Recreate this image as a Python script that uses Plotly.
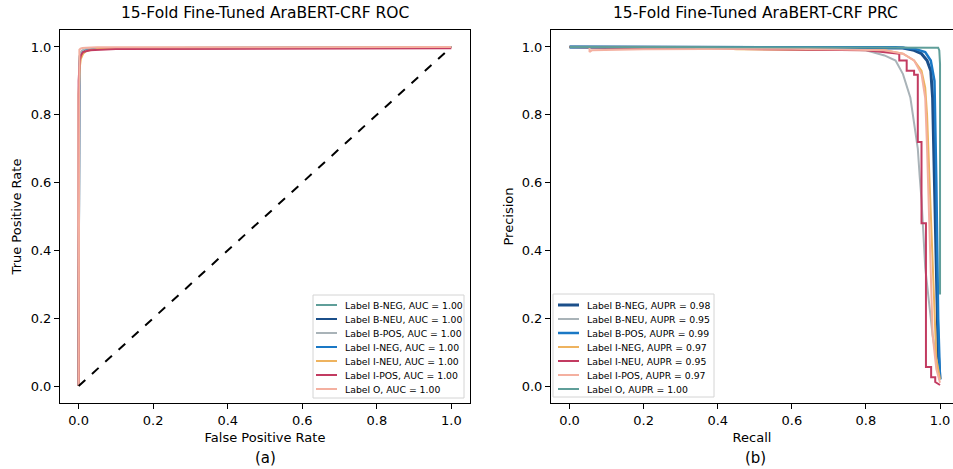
import plotly.graph_objects as go

# ---------------- data ----------------
labels = ["B-NEG", "B-NEU", "B-POS", "I-NEG", "I-NEU", "I-POS", "O"]
auc_values = [1.00, 1.00, 1.00, 1.00, 1.00, 1.00, 1.00]
aupr_values = [0.98, 0.95, 0.99, 0.97, 0.95, 0.97, 1.00]

# ROC curves (false positive rate, true positive rate)
roc_fpr = {
    "B-NEG": [0, 0, 0.002, 0.005, 0.01, 0.02, 0.05, 1.0],
    "B-NEU": [0, 0, 0.002, 0.004, 0.01, 0.02, 0.05, 1.0],
    "B-POS": [0, 0, 0.002, 0.005, 0.01, 0.02, 0.05, 1.0],
    "I-NEG": [0, 0, 0.002, 0.005, 0.01, 0.02, 0.05, 1.0],
    "I-NEU": [0, 0, 0.003, 0.006, 0.012, 0.02, 0.05, 1.0],
    "I-POS": [0, 0, 0.003, 0.006, 0.012, 0.03, 0.1, 1.0],
    "O":     [0, 0, 0.002, 0.005, 0.01, 0.02, 0.05, 1.0],
}
roc_tpr = {
    "B-NEG": [0, 0.90, 0.96, 0.975, 0.985, 0.99, 0.996, 1.0],
    "B-NEU": [0, 0.92, 0.965, 0.98, 0.988, 0.992, 0.996, 1.0],
    "B-POS": [0, 0.93, 0.97, 0.982, 0.99, 0.994, 0.997, 1.0],
    "I-NEG": [0, 0.88, 0.95, 0.97, 0.982, 0.99, 0.995, 1.0],
    "I-NEU": [0, 0.86, 0.94, 0.965, 0.98, 0.988, 0.994, 1.0],
    "I-POS": [0, 0.90, 0.96, 0.975, 0.985, 0.99, 0.994, 0.996],
    "O":     [0, 0.985, 0.992, 0.995, 0.997, 0.998, 0.999, 1.0],
}

# Precision-recall curves (recall, precision)
pr_recall = {
    "B-NEG": [0, 0.85, 0.90, 0.93, 0.95, 0.965, 0.975, 0.98, 0.985, 0.99, 0.995, 1.0],
    "B-NEU": [0, 0.70, 0.80, 0.85, 0.88, 0.90, 0.92, 0.93, 0.94, 0.945, 0.95, 0.955,
              0.96, 0.97, 0.98, 0.99, 1.0],
    "B-POS": [0, 0.88, 0.93, 0.96, 0.975, 0.985, 0.99, 0.995, 1.0],
    "I-NEG": [0, 0.40, 0.45, 0.85, 0.90, 0.93, 0.95, 0.96, 0.965, 0.97, 0.975,
              0.98, 0.985, 0.99, 1.0],
    "I-NEU": [0, 0.50, 0.80, 0.89, 0.89, 0.91, 0.91, 0.93, 0.93, 0.94, 0.94, 0.95,
              0.95, 0.962, 0.962, 0.976, 0.976, 0.987, 0.987, 1.0],
    "I-POS": [0.054, 0.054, 0.06, 0.20, 0.60, 0.85, 0.90, 0.93, 0.95, 0.96, 0.965,
              0.97, 0.975, 0.98, 0.99, 1.0],
    "O":     [0, 0.99, 0.995, 0.998, 1.0, 1.0],
}
pr_precision = {
    "B-NEG": [1.0, 0.999, 0.997, 0.99, 0.98, 0.96, 0.93, 0.85, 0.60, 0.30, 0.10, 0.02],
    "B-NEU": [1.0, 0.995, 0.99, 0.975, 0.96, 0.92, 0.85, 0.78, 0.70, 0.62, 0.55, 0.45,
              0.35, 0.25, 0.15, 0.08, 0.03],
    "B-POS": [1.0, 0.999, 0.995, 0.985, 0.96, 0.90, 0.60, 0.20, 0.02],
    "I-NEG": [1.0, 0.998, 0.993, 0.99, 0.98, 0.96, 0.93, 0.88, 0.80, 0.65, 0.50,
              0.35, 0.20, 0.08, 0.02],
    "I-NEU": [1.0, 0.995, 0.99, 0.98, 0.96, 0.96, 0.93, 0.93, 0.918, 0.918, 0.72, 0.72,
              0.48, 0.48, 0.056, 0.056, 0.026, 0.026, 0.012, 0.003],
    "I-POS": [1.0, 0.985, 0.99, 0.993, 0.995, 0.99, 0.98, 0.96, 0.92, 0.85, 0.70,
              0.50, 0.30, 0.15, 0.05, 0.01],
    "O":     [1.0, 1.0, 0.998, 0.99, 0.95, 0.27],
}

x_ticks = [0.0, 0.2, 0.4, 0.6, 0.8, 1.0]
y_ticks = [0.0, 0.2, 0.4, 0.6, 0.8, 1.0]

# ---------------- styles ----------------
roc_colors = ["#5f9e99", "#1b4f8a", "#a9b3b8", "#1a78c5", "#eeb35f", "#c23b61", "#f4b0a0"]
pr_colors = ["#1b4f8a", "#a9b3b8", "#1a78c5", "#eeb35f", "#c23b61", "#f4b0a0", "#5f9e99"]
pr_widths = [3, 2, 2.5, 2, 2, 2, 2]

FONT = "DejaVu Sans"
W, H = 953, 469


def px_x(p):
    return p / W


def px_y(p):
    return 1 - p / H


fig = go.Figure()

for i, lab in enumerate(labels):
    fig.add_trace(go.Scatter(
        x=roc_fpr[lab], y=roc_tpr[lab], mode="lines",
        line=dict(color=roc_colors[i], width=2),
        name=f"Label {lab}, AUC = {auc_values[i]:.2f}",
        xaxis="x", yaxis="y", showlegend=False,
    ))

fig.add_trace(go.Scatter(
    x=[0, 1], y=[0, 1], mode="lines",
    line=dict(color="black", width=2, dash="dash"),
    showlegend=False, xaxis="x", yaxis="y",
))

for i, lab in enumerate(labels):
    fig.add_trace(go.Scatter(
        x=pr_recall[lab], y=pr_precision[lab], mode="lines",
        line=dict(color=pr_colors[i], width=pr_widths[i]),
        name=f"Label {lab}, AUPR = {aupr_values[i]:.2f}",
        xaxis="x2", yaxis="y2", showlegend=False,
    ))

# ---------- compact legends (matplotlib-like) ----------
shapes = []
annotations = []


def add_legend(box, line_x0, line_x1, text_x, first_y, step, names, colors, widths):
    x0, y0, x1, y1 = box
    shapes.append(dict(type="rect", xref="paper", yref="paper",
                       x0=px_x(x0), x1=px_x(x1), y0=px_y(y1), y1=px_y(y0),
                       line=dict(color="#d4d4d4", width=1),
                       fillcolor="rgba(255,255,255,0.85)", layer="above"))
    for k, (nm, col, wd) in enumerate(zip(names, colors, widths)):
        yy = first_y + k * step
        shapes.append(dict(type="line", xref="paper", yref="paper",
                           x0=px_x(line_x0), x1=px_x(line_x1),
                           y0=px_y(yy), y1=px_y(yy),
                           line=dict(color=col, width=wd), layer="above"))
        annotations.append(dict(text=nm, x=px_x(text_x), y=px_y(yy),
                                xref="paper", yref="paper",
                                xanchor="left", yanchor="middle", showarrow=False,
                                font=dict(family=FONT, size=9.3, color="black")))


add_legend((313, 295, 464, 398), 316, 337, 343, 305, 14,
           [f"Label {lab}, AUC = {v:.2f}" for lab, v in zip(labels, auc_values)],
           roc_colors, [2] * 7)
add_legend((553, 294, 714, 397), 558, 579, 585, 305, 14,
           [f"Label {lab}, AUPR = {v:.2f}" for lab, v in zip(labels, aupr_values)],
           pr_colors, pr_widths)

axis_common = dict(
    showgrid=False, zeroline=False, showline=True, linecolor="black", linewidth=1,
    ticks="outside", ticklen=5, tickwidth=1, tickcolor="black",
    tickfont=dict(family=FONT, size=13, color="black"),
    tickformat=".1f", automargin=False,
)

annotations += [
    dict(text="15-Fold Fine-Tuned AraBERT-CRF ROC", x=px_x(265), y=px_y(13),
         xref="paper", yref="paper", xanchor="center", yanchor="middle",
         showarrow=False, font=dict(family=FONT, size=15.5, color="black")),
    dict(text="15-Fold Fine-Tuned AraBERT-CRF PRC", x=px_x(755), y=px_y(13),
         xref="paper", yref="paper", xanchor="center", yanchor="middle",
         showarrow=False, font=dict(family=FONT, size=15.5, color="black")),
    dict(text="(a)", x=px_x(265), y=px_y(458), xref="paper", yref="paper",
         xanchor="center", yanchor="middle",
         showarrow=False, font=dict(family=FONT, size=15, color="black")),
    dict(text="(b)", x=px_x(755), y=px_y(458), xref="paper", yref="paper",
         xanchor="center", yanchor="middle",
         showarrow=False, font=dict(family=FONT, size=15, color="black")),
]

fig.update_layout(
    width=W, height=H,
    margin=dict(l=0, r=0, t=0, b=0, autoexpand=False),
    paper_bgcolor="white", plot_bgcolor="white",
    font=dict(family=FONT, color="black"),
    showlegend=False,
    xaxis=dict(domain=[px_x(60), px_x(470)], range=[-0.05, 1.05], tickvals=x_ticks,
               mirror=True, anchor="y",
               title=dict(text="False Positive Rate", font=dict(size=13), standoff=6),
               **axis_common),
    yaxis=dict(domain=[px_y(403), px_y(30)], range=[-0.05, 1.05], tickvals=y_ticks,
               mirror=True, anchor="x",
               title=dict(text="True Positive Rate", font=dict(size=13), standoff=6),
               **axis_common),
    xaxis2=dict(domain=[px_x(551), 1.0], range=[-0.05, 1.035], tickvals=x_ticks,
                mirror=True, anchor="y2",
                title=dict(text="Recall", font=dict(size=13), standoff=6),
                **axis_common),
    yaxis2=dict(domain=[px_y(403), px_y(30)], range=[-0.05, 1.05], tickvals=y_ticks,
                mirror=False, anchor="x2",
                title=dict(text="Precision", font=dict(size=13), standoff=5),
                **axis_common),
    shapes=shapes,
    annotations=annotations,
)

fig.write_html(
    "out.html",
    config={"displayModeBar": False},
    post_script="document.body.style.margin='0';document.body.style.overflow='hidden';",
)
